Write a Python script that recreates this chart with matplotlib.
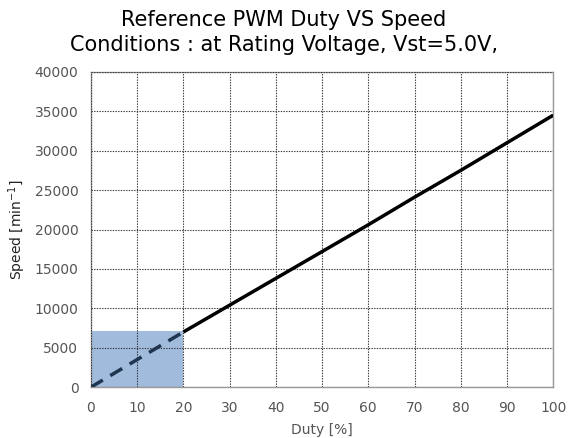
import matplotlib
matplotlib.use("Agg")
import matplotlib.pyplot as plt
from matplotlib.patches import Rectangle

duty_solid = [20, 30, 40, 50, 60, 70, 80, 90, 100]
speed_solid = [7000, 10400, 13800, 17200, 20600, 24100, 27500, 31000, 34500]
duty_dashed = [0, 20]
speed_dashed = [0, 7000]
shade_duty = 20
shade_speed = 7100

fig = plt.figure(figsize=(5.68, 4.38), dpi=100)
ax = fig.add_axes([0.160, 0.116, 0.814, 0.720])

ax.add_patch(Rectangle((0, 0), shade_duty, shade_speed, facecolor="#9bb8da", edgecolor="none", alpha=0.95, zorder=1))
ax.plot(duty_solid, speed_solid, color="black", lw=2.5, zorder=3, solid_capstyle="butt")
ax.plot(duty_dashed, speed_dashed, color="#1f3550", lw=2.5, ls=(0, (4, 2.5)), zorder=3)

ax.set_xlim(0, 100)
ax.set_ylim(0, 40000)
ax.set_xticks(range(0, 101, 10))
ax.set_yticks(range(0, 40001, 5000))
ax.grid(True, color="#333333", ls=(0, (1.2, 1.2)), lw=0.8, zorder=2)
ax.set_axisbelow(False)
for s in ax.spines.values():
    s.set_color("#999999")
    s.set_linewidth(1.0)
ax.tick_params(axis="both", length=0, labelsize=10, labelcolor="#555555")
ax.tick_params(axis="x", pad=10)
ax.tick_params(axis="y", pad=9)

ax.set_ylabel("Speed [min$^{-1}$]", fontsize=10, color="#222222", labelpad=5)
ax.set_xlabel("Duty [%]", fontsize=10, color="#555555", labelpad=6)
fig.text(0.5, 0.955, "Reference PWM Duty VS Speed", ha="center", va="center", fontsize=15)
fig.text(0.5, 0.898, "Conditions : at Rating Voltage, Vst=5.0V,", ha="center", va="center", fontsize=15)

fig.savefig("out.png", dpi=100)
